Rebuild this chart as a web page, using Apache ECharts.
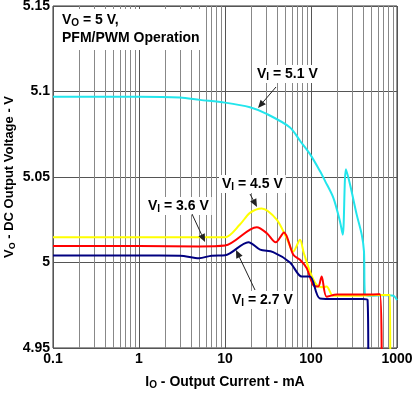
<!DOCTYPE html>
<html><head><meta charset="utf-8">
<script src="https://cdn.jsdelivr.net/npm/echarts@6/dist/echarts.min.js"></script>
<style>html,body{margin:0;padding:0;background:#fff}#c{width:420px;height:393px}</style>
</head><body><div id="c"></div>
<script>
// ---- data ----
var xTicks = [0.1, 1, 10, 100, 1000];
var yTicks = [4.95, 5, 5.05, 5.1, 5.15];
var gridX = [0.2,0.3,0.4,0.5,0.6,0.7,0.8,0.9,2,3,4,5,6,7,8,9,20,30,40,50,60,70,80,90,200,300,400,500,600,700,800,900];

var cur51 = [0.1, 1, 3, 5.1, 10, 19.5, 30.5, 57, 74.5, 97, 127, 146, 182, 217, 234, 255, 284, 340, 389, 413, 425, 500, 700, 906, 1000];
var v51   = [5.097, 5.097, 5.0965, 5.0951, 5.0935, 5.0908, 5.0869, 5.079, 5.0712, 5.0635, 5.0535, 5.0476, 5.0378, 5.0241, 5.0163, 5.0545, 5.0457, 5.028, 5.0163, 5.0065, 4.981, 4.9806, 4.9808, 4.9806, 4.978];

var cur45 = [0.1, 1, 10, 14.9, 19.5, 26.7, 39.9, 52, 62.3, 74.5, 82, 97.3, 116, 140, 152, 181, 300, 600, 830, 835];
var v45   = [5.0147, 5.0147, 5.0148, 5.0222, 5.029, 5.0316, 5.0251, 5.0143, 5.0065, 5.0133, 5.006, 4.9947, 4.987, 4.9855, 4.986, 4.9805, 4.9805, 4.981, 4.981, 4.94];

var cur36 = [0.1, 1, 5, 10, 23.4, 30.5, 38.9, 48.5, 62.3, 74.5, 89, 106, 121, 133, 152, 200, 400, 634, 664];
var v36   = [5.0096, 5.0096, 5.0094, 5.0099, 5.0206, 5.0172, 5.0118, 5.0176, 5.0045, 5.0016, 4.9967, 4.9869, 4.9859, 4.9918, 4.980, 4.9813, 4.9813, 4.9815, 4.94];

var cur27 = [0.1, 1, 3, 5, 7, 10, 18.7, 25.6, 36.3, 57, 78, 97.3, 127, 200, 400, 455, 464];
var v27   = [5.0041, 5.0041, 5.004, 5.0025, 5.004, 5.0042, 5.0119, 5.0075, 5.0061, 5.0, 4.9918, 4.9918, 4.979, 4.9786, 4.9786, 4.978, 4.94];

function zip(a, b) { return a.map(function (x, i) { return [x, b[i]]; }); }

var chart = echarts.init(document.getElementById('c'), null, {renderer: 'canvas'});
var F = '"Liberation Sans", Arial, sans-serif';
function mkRich(size, color, lh) {
  return {
    a: {fontFamily: F, fontWeight: 'bold', fontSize: size, color: color, lineHeight: lh},
    s: {fontFamily: F, fontWeight: 'bold', fontSize: Math.round(size * 0.68), color: color, padding: [7, 0, 0, 0], lineHeight: lh}
  };
}
var rich = mkRich(14, '#222', 16);
function lbl(text, x, y) {
  return {type: 'text', left: x, top: y, z: 100,
    style: {text: text, rich: rich, backgroundColor: '#fff', padding: [1, 3, 1, 3]}};
}
function arrow(x1, y1, x2, y2) {
  var dx = x2 - x1, dy = y2 - y1, L = Math.sqrt(dx*dx + dy*dy);
  var ux = dx / L, uy = dy / L, h = 8, w = 3.5;
  var bx = x2 - ux*h, by = y2 - uy*h;
  return [
    {type: 'line', z: 100, shape: {x1: x1, y1: y1, x2: bx, y2: by}, style: {stroke: '#222', lineWidth: 1}},
    {type: 'polygon', z: 100, shape: {points: [[x2, y2], [bx - uy*w, by + ux*w], [bx + uy*w, by - ux*w]]}, style: {fill: '#222'}}
  ];
}

function ser(name, cur, v, color) {
  return {name: name, type: 'line', data: zip(cur, v), showSymbol: false, symbol: 'none',
    smooth: 0.3, clip: true, lineStyle: {color: color, width: 2}, z: 5};
}

var series = [
  {type: 'line', data: [], markLine: {silent: true, symbol: ['none','none'], label: {show: false},
    lineStyle: {color: '#888', width: 1, type: 'solid'},
    data: gridX.map(function (x) { return {xAxis: x}; })}},
  ser('5.1', cur51, v51, '#22E5EC'),
  ser('4.5', cur45, v45, '#FFFF00'),
  ser('3.6', cur36, v36, '#FF0000'),
  ser('2.7', cur27, v27, '#000080')
];

var graphic = [
  {type: 'text', left: 56, top: 9, z: 100,
   style: {text: '{a|V}{s|O}{a| = 5 V,}\n{a|PFM/PWM Operation}', rich: mkRich(14, '#333', 18),
     backgroundColor: '#fff', padding: [2, 6, 3, 6]}},
  lbl('{a|V}{s|I}{a| = 5.1 V}', 254, 65),
  lbl('{a|V}{s|I}{a| = 4.5 V}', 219, 175),
  lbl('{a|V}{s|I}{a| = 3.6 V}', 145, 197),
  lbl('{a|V}{s|I}{a| = 2.7 V}', 229, 291)
].concat(arrow(276, 87, 258, 108), arrow(250, 194, 257, 207), arrow(192, 214, 205, 242), arrow(255, 290, 236, 250));

chart.setOption({
  animation: false,
  backgroundColor: '#fff',
  grid: {left: 53, right: 23, top: 6, bottom: 45, show: true, borderColor: '#333', borderWidth: 1,
    backgroundColor: 'transparent', containLabel: false, outerBoundsMode: 'none'},
  xAxis: {type: 'log', logBase: 10, min: xTicks[0], max: xTicks[xTicks.length-1],
    axisLine: {show: false}, axisTick: {show: false},
    splitLine: {show: true, lineStyle: {color: '#555', width: 1}},
    axisLabel: {margin: 4, color: '#000', fontFamily: F, fontWeight: 'bold', fontSize: 14,
      formatter: function (v) { var r = parseFloat(Number(v).toPrecision(3)); return xTicks.indexOf(r) >= 0 ? String(r) : ''; }},
    name: '{a|I}{s|O}{a| - Output Current - mA}', nameLocation: 'middle', nameGap: 26, nameMoveOverlap: false,
    nameTextStyle: {rich: mkRich(14, '#000', 16)}
  },
  yAxis: {type: 'value', min: 4.95, max: 5.15, interval: 0.05,
    axisLine: {show: false}, axisTick: {show: false},
    splitLine: {show: true, lineStyle: {color: '#555', width: 1}},
    axisLabel: {margin: 3, color: '#000', fontFamily: F, fontWeight: 'bold', fontSize: 14,
      formatter: function (v) { return String(parseFloat(Number(v).toFixed(2))); }},
    name: '{a|V}{s|O}{a| - DC Output Voltage - V}', nameLocation: 'middle', nameGap: 36, nameMoveOverlap: false,
    nameTextStyle: {rich: mkRich(13, '#000', 16)}
  },
  series: series,
  graphic: graphic
});
</script></body></html>
